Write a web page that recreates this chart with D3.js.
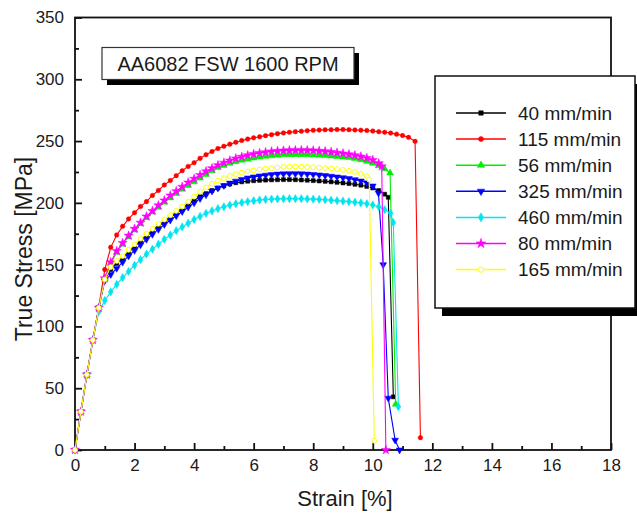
<!DOCTYPE html>
<html>
<head>
<meta charset="utf-8">
<script src="https://cdn.jsdelivr.net/npm/d3@7"></script>
<style>
  body { margin: 0; background: #fff; }
  text { font-family: "Liberation Sans", Arial, sans-serif; fill: #1a1a1a; }
</style>
</head>
<body>
<div id="dataviz"></div>
<script>
// data: strain grid (%) and true stress (MPa) per speed
const strain = [0,0.2,0.4,0.6,0.8,1,1.2,1.4,1.6,1.8,2,2.2,2.4,2.6,2.8,3,3.2,3.4,3.6,3.8,4,4.2,4.4,4.6,4.8,5,5.2,5.4,5.6,5.8,6,6.2,6.4,6.6,6.8,7,7.2,7.4,7.6,7.8,8,8.2,8.4,8.6,8.8,9,9.2,9.4,9.6,9.8,10,10.2,10.4,10.6,10.8,11,11.2];

const speeds = ["40 mm/min", "115 mm/min", "56 mm/min", "325 mm/min", "460 mm/min", "80 mm/min", "165 mm/min"];

const stress40 = [0,31,61,89,115,138,146,151,155,160,164.5,169,173,177,181,184.5,188,191.5,195,198.5,202,205,207.5,210,212,213.8,215.2,216.3,217,217.5,217.9,218.2,218.4,218.6,218.7,218.8,218.8,218.7,218.5,218.3,218,217.7,217.4,217,216.6,216.1,215.6,215,214.3,213.3,212,210,207];
const stress115 = [0,31,61,89,116,146,164,174,181,187,192,197,201,206,210,214.5,218,222,226,229.5,232.5,236,239,241.5,244,245.8,247.5,249,250.5,251.6,252.6,253.5,254.4,255.2,256,256.6,257.1,257.6,258,258.4,258.7,258.9,259.1,259.2,259.3,259.3,259.2,259,258.8,258.5,258.1,257.6,257.1,256.5,255.6,254.5,253];
const stress56 = [0,31,61,89,115,139,151,160,166.5,172.5,178,183,188,192.5,196.5,200.5,204,207.5,211,214,217,220,223,226,228.5,230.3,232,233.3,234.5,235.3,236.2,237,237.6,238.1,238.5,238.8,239,239,239,239,238.7,238.5,238.2,237.9,237.5,237.1,236.6,235.8,234.8,233.6,232,230,227.5];
const stress325 = [0,31,61,89,115,137,142,147,152,157,161.5,166,170.5,174.5,178.5,182.5,186,189.5,193,196.5,200,203.5,206.5,209.5,212,214,216,217.6,219,220.2,221,221.8,222.4,222.9,223.3,223.5,223.6,223.6,223.5,223.3,223,222.6,222.1,221.6,221,220.4,219.7,218.8,217.7,216.3,213.7];
const stress460 = [0,31,61,89,112,121,128,134,139.5,144.5,149.5,154,158.5,162.5,166.5,170.5,174,177.5,180.5,183.5,186.5,189,191.5,193.5,195.3,196.8,198.2,199.3,200.2,201,201.7,202.3,202.7,203,203.2,203.3,203.4,203.4,203.3,203.2,203,202.8,202.5,202.2,201.8,201.4,201,200.5,200,199.3,198.3,196.8,194.5,191.5];
const stress80 = [0,31,61,89,115,139,152,161,167.5,173.5,179,184,189,193.5,198,202,206,209.5,213,216.5,219.5,222.5,225.5,228,230.5,232.5,234.3,236,237.3,238.5,239.5,240.3,241,241.6,242,242.3,242.5,242.6,242.6,242.6,242.4,242.1,241.7,241.2,240.6,240,239.3,238.5,237.5,236.3,234.6,232];
const stress165 = [0,31,61,89,115,138,148,153,157,162,166.5,171,175,179,183,186.5,190,193.5,197,201,205,209,212.5,215.5,218,220,221.8,223.3,224.5,225.5,226.3,227,227.6,228.1,228.6,229,229.2,229.3,229.2,229,228.8,228.5,228.2,227.8,227.3,226.7,226,225,223.5,221.5];

// fracture points after the grid: [strain, stress]
const tail40 = [[10.52,204.5],[10.69,43]];
const tail115 = [[11.42,249.8],[11.6,10]];
const tail56 = [[10.58,224.2],[10.77,37]];
const tail325 = [[10.19,208],[10.35,150],[10.52,42],[10.75,8],[10.9,0]];
const tail460 = [[10.69,184],[10.86,35]];
const tail80 = [[10.3,229.6],[10.44,0]];
const tail165 = [[9.88,218.8],[10.05,7.5]];

const xTicks = [0,2,4,6,8,10,12,14,16,18];
const yTicks = [0,50,100,150,200,250,300,350];
const title = "AA6082 FSW 1600 RPM";

let w = 637;
let h = 514;

const colors = ["#000000", "#ff0000", "#00ee00", "#0000ff", "#00e5ee", "#ff00ff", "#ffff00"];
const symbols = [d3.symbolSquare, d3.symbolCircle, d3.symbolTriangle, d3.symbolTriangle, d3.symbolDiamond, d3.symbolStar, d3.symbolCircle];
const symSizes = [16, 16, 20, 20, 20, 26, 18];

const stresses = [stress40, stress115, stress56, stress325, stress460, stress80, stress165];
const tails = [tail40, tail115, tail56, tail325, tail460, tail80, tail165];

const series = speeds.map((name, i) => ({
  name: name,
  color: colors[i],
  points: stresses[i].map((s, j) => [strain[j], s]).concat(tails[i])
}));

const svg = d3.select("#dataviz").
append("svg").
attr("width", w).
attr("height", h);

const xScale = d3.scaleLinear().domain([0, 18]).range([75, 611]);
const yScale = d3.scaleLinear().domain([0, 350]).range([450, 17.5]);

// frame
svg.append("rect").
attr("x", 75).
attr("y", yScale(350)).
attr("width", xScale(18) - 75).
attr("height", 450 - yScale(350)).
attr("fill", "none").
attr("stroke", "#111").
attr("stroke-width", 1.8);

// axes with inward ticks
const xAxis = d3.axisBottom(xScale).tickValues(xTicks).tickSize(-7).tickPadding(9).tickFormat(d3.format("d"));
const yAxis = d3.axisLeft(yScale).tickValues(yTicks).tickSize(-7).tickPadding(11);

svg.append("g").
attr("id", "x-axis").
attr("transform", "translate(0,450)").
call(xAxis);

svg.append("g").
attr("id", "y-axis").
attr("transform", "translate(75,0)").
call(yAxis);

// minor ticks
svg.append("g").
attr("transform", "translate(0,450)").
call(d3.axisBottom(xScale).tickValues(d3.range(1, 18, 2)).tickSize(-4).tickFormat(""));
svg.append("g").
attr("transform", "translate(75,0)").
call(d3.axisLeft(yScale).tickValues(d3.range(25, 350, 50)).tickSize(-4).tickFormat(""));

svg.selectAll(".domain").remove();
svg.selectAll(".tick line").attr("stroke", "#111").attr("stroke-width", 1.8);
svg.selectAll(".tick text").
style("font-family", "'Liberation Sans', Arial, sans-serif").
style("font-size", "17px").
attr("fill", "#1a1a1a");

// axis titles
svg.append("text").
attr("x", 345).
attr("y", 506).
attr("text-anchor", "middle").
style("font-size", "22px").
text("Strain [%]");

svg.append("text").
attr("transform", "translate(32,249) rotate(-90)").
attr("text-anchor", "middle").
style("font-size", "23px").
text("True Stress [MPa]");

// curves
const line = d3.line().x(d => xScale(d[0])).y(d => yScale(d[1]));

series.forEach((s, i) => {
  const g = svg.append("g").attr("class", "curve");
  g.append("path").
  attr("d", line(s.points)).
  attr("fill", "none").
  attr("stroke", s.color).
  attr("stroke-width", 1.1);

  g.selectAll("path.dot").
  data(s.points).
  enter().
  append("path").
  attr("class", "dot").
  attr("d", d3.symbol().type(symbols[i]).size(symSizes[i])).
  attr("transform", d => "translate(" + xScale(d[0]) + "," + yScale(d[1]) + ")" + (i === 3 ? " rotate(180)" : "")).
  attr("fill", i === 6 ? "#fff" : s.color).
  attr("stroke", s.color).
  attr("stroke-width", i === 6 ? 1 : 0.5);
});

// title box with shadow
svg.append("rect").
attr("x", 107).attr("y", 53).attr("width", 252).attr("height", 32).
attr("fill", "#000");
svg.append("rect").
attr("x", 102).attr("y", 47.5).attr("width", 252).attr("height", 32).
attr("fill", "#fff").attr("stroke", "#333").attr("stroke-width", 1.2);
svg.append("text").
attr("x", 228).
attr("y", 71).
attr("text-anchor", "middle").
style("font-size", "20px").
text(title);

// legend with shadow
let legendBox = svg.append("g").attr("id", "legend");
legendBox.append("rect").
attr("x", 442).attr("y", 84).attr("width", 200).attr("height", 232).
attr("fill", "#000");
legendBox.append("rect").
attr("x", 435).attr("y", 76).attr("width", 200).attr("height", 232).
attr("fill", "#fff").attr("stroke", "#111").attr("stroke-width", 1.5);

let legend = legendBox.selectAll("g.entry").
data(series).
enter().
append("g").
attr("class", "entry").
attr("transform", (d, i) => "translate(0," + (113 + i * 26.1) + ")");

legend.append("line").
attr("x1", 456).attr("x2", 506).
attr("stroke", d => d.color).
attr("stroke-width", 1.5);

legend.append("path").
attr("d", (d, i) => d3.symbol().type(symbols[i]).size(symSizes[i] + 4)()).
attr("transform", (d, i) => "translate(481,0)" + (i === 3 ? " rotate(180)" : "")).
attr("fill", (d, i) => i === 6 ? "#fff" : d.color).
attr("stroke", d => d.color).
attr("stroke-width", (d, i) => i === 6 ? 1 : 0.5);

legend.append("text").
attr("x", 518).
attr("y", 6.5).
attr("class", "legend-label").
style("font-size", "19px").
text(d => d.name);
</script>
</body>
</html>
